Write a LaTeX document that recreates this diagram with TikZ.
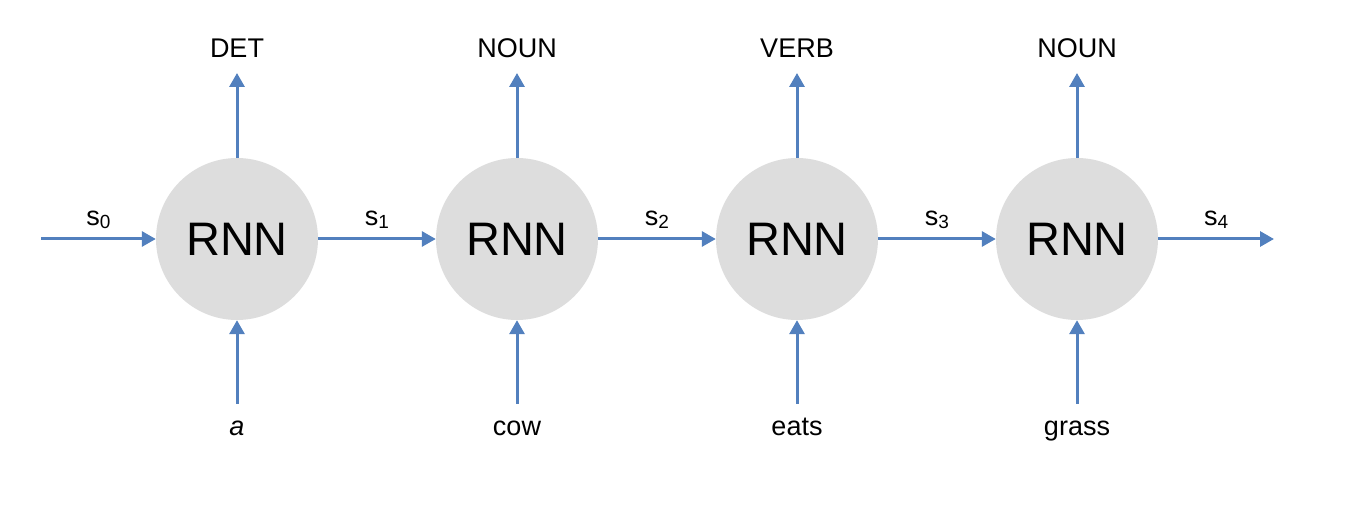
\documentclass[tikz,border=0pt]{standalone}
\usepackage{fontspec}
\setmainfont{Liberation Sans}
\usetikzlibrary{arrows.meta}
\definecolor{linkblue}{RGB}{82,128,190}
\definecolor{cellgray}{RGB}{221,221,221}
\tikzset{
  cell/.style={circle, fill=cellgray, minimum size=162pt, inner sep=0pt,
               font=\fontsize{47}{47}\selectfont},
  tag/.style={inner sep=0pt, font=\fontsize{27}{27}\selectfont},
  word/.style={tag, anchor=base},
  flow/.style={draw=linkblue, line width=3pt,
               -{Triangle[length=14pt,width=15pt]}},
}
% state label: s with a lowered, smaller index
\newcommand{\stlabel}[1]{s{\fontsize{19}{19}\selectfont\raisebox{-3pt}{#1}}}
\begin{document}
\begin{tikzpicture}[x=1pt,y=-1pt]
  \useasboundingbox (0,0) rectangle (1350,510);
  % recurrent cells
  \foreach \i/\x in {1/237,2/517,3/797,4/1077}{
    \node[cell] (c\i) at (\x,239) {RNN};
    \coordinate (up\i) at (\x,73);
    \coordinate (in\i) at (\x,404);
  }
  % output tags
  \node[word] (o1) at (237,58) {DET};
  \node[word] (o2) at (517,58) {NOUN};
  \node[word] (o3) at (797,58) {VERB};
  \node[word] (o4) at (1077,58) {NOUN};
  % input words
  \node[word] (w1) at (237,436) {\itshape a};
  \node[word] (w2) at (517,436) {cow};
  \node[word] (w3) at (797,436) {eats};
  \node[word] (w4) at (1077,436) {grass};
  % state chain ends
  \coordinate (start) at (41,239);
  \coordinate (stop) at (1274,239);
  % vertical connectors
  \foreach \i in {1,2,3,4}{
    \draw[flow] (c\i.north) -- (up\i);
    \draw[flow] (in\i) -- (c\i.south);
  }
  % horizontal state connectors
  \draw[flow] (start) -- (c1.west) node[tag, midway, above=9pt] (s0) {\stlabel{0}};
  \draw[flow] (c1.east) -- (c2.west) node[tag, midway, above=9pt] (s1) {\stlabel{1}};
  \draw[flow] (c2.east) -- (c3.west) node[tag, midway, above=9pt] (s2) {\stlabel{2}};
  \draw[flow] (c3.east) -- (c4.west) node[tag, midway, above=9pt] (s3) {\stlabel{3}};
  \draw[flow] (c4.east) -- (stop) node[tag, midway, above=9pt] (s4) {\stlabel{4}};
\end{tikzpicture}
\end{document}
